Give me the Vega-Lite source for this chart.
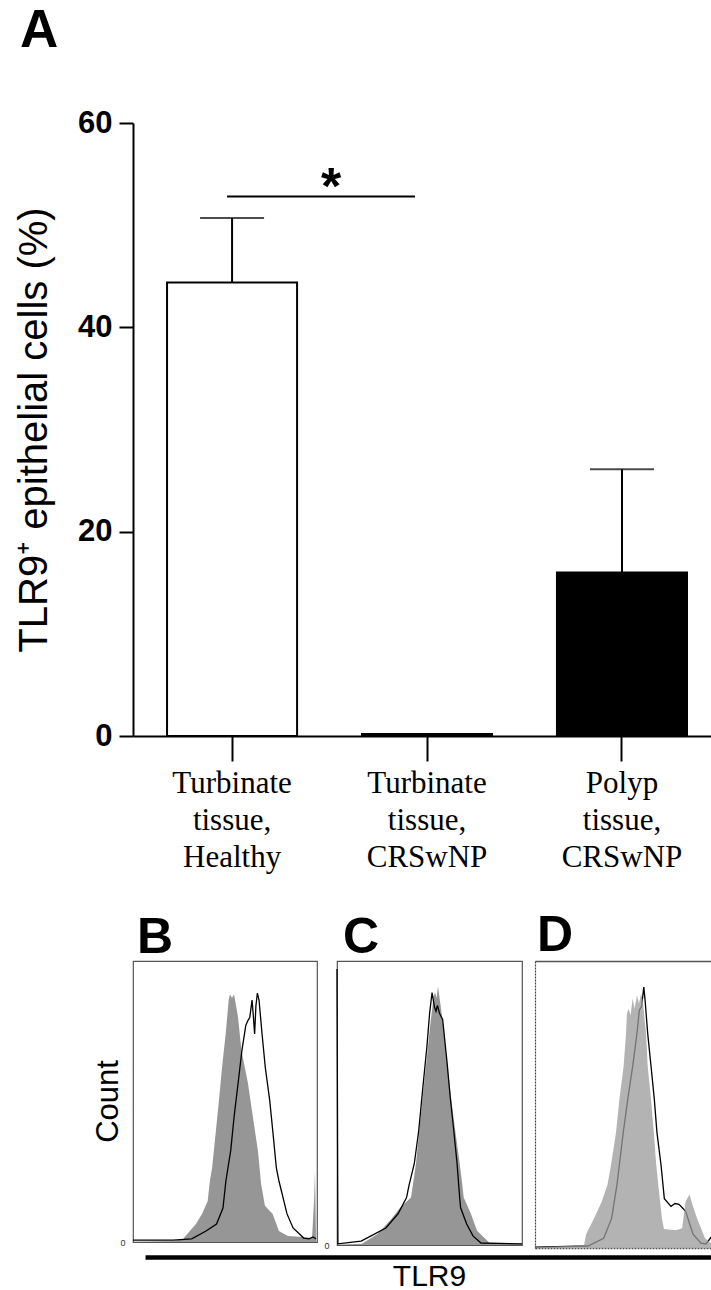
{
  "$schema": "https://vega.github.io/schema/vega-lite/v6.json",
  "usermeta": {"embedOptions": {"actions": false}},
  "background": "white",
  "padding": {"left": 14, "top": 5, "right": 0, "bottom": 0},
  "spacing": 39,
  "datasets": {
    "bars": [
      {"group": "Turbinate tissue, Healthy", "mean": 44.4, "upper": 50.7},
      {"group": "Turbinate tissue, CRSwNP", "mean": 0.2, "upper": 0.2},
      {"group": "Polyp tissue, CRSwNP", "mean": 16.0, "upper": 26.1}
    ],
    "sig": [
      {"from": "Turbinate tissue, Healthy", "to": "Turbinate tissue, CRSwNP", "y": 52.8, "label": "*"}
    ],
    "axisline": [{"t": 0}, {"t": 1}],
    "hist": [
      {"panel": "B", "series": "gray", "x": 0, "count": 0},
      {"panel": "B", "series": "gray", "x": 21.7, "count": 0.4},
      {"panel": "B", "series": "gray", "x": 27.2, "count": 1.1},
      {"panel": "B", "series": "gray", "x": 29.6, "count": 2.9},
      {"panel": "B", "series": "gray", "x": 34.2, "count": 6.4},
      {"panel": "B", "series": "gray", "x": 37.5, "count": 10},
      {"panel": "B", "series": "gray", "x": 40.6, "count": 14.6},
      {"panel": "B", "series": "gray", "x": 41.8, "count": 21.8},
      {"panel": "B", "series": "gray", "x": 43, "count": 26.4},
      {"panel": "B", "series": "gray", "x": 44.9, "count": 38.6},
      {"panel": "B", "series": "gray", "x": 46.7, "count": 50.4},
      {"panel": "B", "series": "gray", "x": 48.4, "count": 62.1},
      {"panel": "B", "series": "gray", "x": 50.4, "count": 74.3},
      {"panel": "B", "series": "gray", "x": 52, "count": 86.1},
      {"panel": "B", "series": "gray", "x": 52.7, "count": 88.2},
      {"panel": "B", "series": "gray", "x": 53.8, "count": 86.8},
      {"panel": "B", "series": "gray", "x": 54.9, "count": 88.2},
      {"panel": "B", "series": "gray", "x": 57.1, "count": 80},
      {"panel": "B", "series": "gray", "x": 58.9, "count": 68.2},
      {"panel": "B", "series": "gray", "x": 62.5, "count": 56.4},
      {"panel": "B", "series": "gray", "x": 65.2, "count": 44.3},
      {"panel": "B", "series": "gray", "x": 67.9, "count": 32.5},
      {"panel": "B", "series": "gray", "x": 69.6, "count": 20.7},
      {"panel": "B", "series": "gray", "x": 71.7, "count": 12.9},
      {"panel": "B", "series": "gray", "x": 75.9, "count": 10},
      {"panel": "B", "series": "gray", "x": 79.3, "count": 3.9},
      {"panel": "B", "series": "gray", "x": 84.2, "count": 2.1},
      {"panel": "B", "series": "gray", "x": 92.4, "count": 1.8},
      {"panel": "B", "series": "gray", "x": 97.3, "count": 1.4},
      {"panel": "B", "series": "gray", "x": 98.4, "count": 14.6},
      {"panel": "B", "series": "gray", "x": 98.9, "count": 25.4},
      {"panel": "B", "series": "gray", "x": 99.5, "count": 0.4},
      {"panel": "B", "series": "gray", "x": 100, "count": 0},
      {"panel": "B", "series": "black", "x": 0, "count": 0.7},
      {"panel": "B", "series": "black", "x": 21.7, "count": 0.7},
      {"panel": "B", "series": "black", "x": 31.9, "count": 1.1},
      {"panel": "B", "series": "black", "x": 39.7, "count": 3.9},
      {"panel": "B", "series": "black", "x": 45.4, "count": 6.4},
      {"panel": "B", "series": "black", "x": 48.9, "count": 12.1},
      {"panel": "B", "series": "black", "x": 50.5, "count": 21.8},
      {"panel": "B", "series": "black", "x": 53.1, "count": 32.5},
      {"panel": "B", "series": "black", "x": 54.9, "count": 44.3},
      {"panel": "B", "series": "black", "x": 57.1, "count": 56.4},
      {"panel": "B", "series": "black", "x": 59.2, "count": 68.2},
      {"panel": "B", "series": "black", "x": 61.3, "count": 77.1},
      {"panel": "B", "series": "black", "x": 62.3, "count": 78.6},
      {"panel": "B", "series": "black", "x": 63.5, "count": 80},
      {"panel": "B", "series": "black", "x": 64.7, "count": 86.1},
      {"panel": "B", "series": "black", "x": 65.4, "count": 80.5},
      {"panel": "B", "series": "black", "x": 66.1, "count": 74},
      {"panel": "B", "series": "black", "x": 66.8, "count": 84},
      {"panel": "B", "series": "black", "x": 67.6, "count": 88.6},
      {"panel": "B", "series": "black", "x": 68.5, "count": 86.1},
      {"panel": "B", "series": "black", "x": 70.1, "count": 74.3},
      {"panel": "B", "series": "black", "x": 71.9, "count": 62.1},
      {"panel": "B", "series": "black", "x": 74.3, "count": 50.4},
      {"panel": "B", "series": "black", "x": 76.1, "count": 38.6},
      {"panel": "B", "series": "black", "x": 77.9, "count": 26.4},
      {"panel": "B", "series": "black", "x": 79.3, "count": 21.8},
      {"panel": "B", "series": "black", "x": 83.7, "count": 10},
      {"panel": "B", "series": "black", "x": 87, "count": 5},
      {"panel": "B", "series": "black", "x": 92.8, "count": 1.4},
      {"panel": "B", "series": "black", "x": 95.7, "count": 1.1},
      {"panel": "B", "series": "black", "x": 97.8, "count": 1.8},
      {"panel": "B", "series": "black", "x": 99.5, "count": 1.1},
      {"panel": "C", "series": "gray", "x": 0, "count": 0},
      {"panel": "C", "series": "gray", "x": 13.5, "count": 0.4},
      {"panel": "C", "series": "gray", "x": 21.9, "count": 3.9},
      {"panel": "C", "series": "gray", "x": 28.6, "count": 8.5},
      {"panel": "C", "series": "gray", "x": 34.1, "count": 13.1},
      {"panel": "C", "series": "gray", "x": 40, "count": 16.7},
      {"panel": "C", "series": "gray", "x": 42.7, "count": 28.7},
      {"panel": "C", "series": "gray", "x": 44.5, "count": 40.4},
      {"panel": "C", "series": "gray", "x": 46.3, "count": 52.1},
      {"panel": "C", "series": "gray", "x": 48.3, "count": 64.2},
      {"panel": "C", "series": "gray", "x": 50.1, "count": 75.9},
      {"panel": "C", "series": "gray", "x": 52.3, "count": 87.7},
      {"panel": "C", "series": "gray", "x": 53, "count": 89},
      {"panel": "C", "series": "gray", "x": 53.8, "count": 86.9},
      {"panel": "C", "series": "gray", "x": 54.6, "count": 91},
      {"panel": "C", "series": "gray", "x": 55.3, "count": 87.7},
      {"panel": "C", "series": "gray", "x": 56.8, "count": 80.5},
      {"panel": "C", "series": "gray", "x": 59.5, "count": 64.2},
      {"panel": "C", "series": "gray", "x": 61.6, "count": 52.1},
      {"panel": "C", "series": "gray", "x": 63.9, "count": 40.4},
      {"panel": "C", "series": "gray", "x": 66.3, "count": 28.7},
      {"panel": "C", "series": "gray", "x": 67.6, "count": 22},
      {"panel": "C", "series": "gray", "x": 68.5, "count": 16.7},
      {"panel": "C", "series": "gray", "x": 72.4, "count": 11},
      {"panel": "C", "series": "gray", "x": 75.7, "count": 5},
      {"panel": "C", "series": "gray", "x": 82.5, "count": 0.7},
      {"panel": "C", "series": "gray", "x": 100, "count": 0.4},
      {"panel": "C", "series": "black", "x": 0, "count": 97.2},
      {"panel": "C", "series": "black", "x": 0.5, "count": 0.4},
      {"panel": "C", "series": "black", "x": 13, "count": 1.4},
      {"panel": "C", "series": "black", "x": 18.4, "count": 3.2},
      {"panel": "C", "series": "black", "x": 26.4, "count": 6},
      {"panel": "C", "series": "black", "x": 33, "count": 11},
      {"panel": "C", "series": "black", "x": 37.6, "count": 16.7},
      {"panel": "C", "series": "black", "x": 38.9, "count": 20.9},
      {"panel": "C", "series": "black", "x": 41.8, "count": 28.7},
      {"panel": "C", "series": "black", "x": 44.2, "count": 40.4},
      {"panel": "C", "series": "black", "x": 45.9, "count": 52.1},
      {"panel": "C", "series": "black", "x": 48.6, "count": 69.9},
      {"panel": "C", "series": "black", "x": 50.1, "count": 81.9},
      {"panel": "C", "series": "black", "x": 51.4, "count": 88.9},
      {"panel": "C", "series": "black", "x": 52.7, "count": 83.7},
      {"panel": "C", "series": "black", "x": 53.5, "count": 82.3},
      {"panel": "C", "series": "black", "x": 54.3, "count": 84.4},
      {"panel": "C", "series": "black", "x": 55.4, "count": 81.6},
      {"panel": "C", "series": "black", "x": 57.1, "count": 79.4},
      {"panel": "C", "series": "black", "x": 59.5, "count": 64.2},
      {"panel": "C", "series": "black", "x": 61.2, "count": 52.1},
      {"panel": "C", "series": "black", "x": 63.1, "count": 40.4},
      {"panel": "C", "series": "black", "x": 64.9, "count": 28.7},
      {"panel": "C", "series": "black", "x": 66.3, "count": 16.7},
      {"panel": "C", "series": "black", "x": 66.8, "count": 13.1},
      {"panel": "C", "series": "black", "x": 70.1, "count": 7.4},
      {"panel": "C", "series": "black", "x": 73.5, "count": 3.2},
      {"panel": "C", "series": "black", "x": 77.8, "count": 0.7},
      {"panel": "C", "series": "black", "x": 100, "count": 0.4},
      {"panel": "D", "series": "gray", "x": 0, "count": 0.3},
      {"panel": "D", "series": "gray", "x": 26.5, "count": 1},
      {"panel": "D", "series": "gray", "x": 27.6, "count": 4.8},
      {"panel": "D", "series": "gray", "x": 31.9, "count": 10.3},
      {"panel": "D", "series": "gray", "x": 36.1, "count": 16.2},
      {"panel": "D", "series": "gray", "x": 39.2, "count": 22.1},
      {"panel": "D", "series": "gray", "x": 41.1, "count": 29},
      {"panel": "D", "series": "gray", "x": 43.8, "count": 40.3},
      {"panel": "D", "series": "gray", "x": 45.6, "count": 51.7},
      {"panel": "D", "series": "gray", "x": 47.9, "count": 63.4},
      {"panel": "D", "series": "gray", "x": 49.2, "count": 74.8},
      {"panel": "D", "series": "gray", "x": 49.7, "count": 81.7},
      {"panel": "D", "series": "gray", "x": 50.6, "count": 83.4},
      {"panel": "D", "series": "gray", "x": 51.6, "count": 81},
      {"panel": "D", "series": "gray", "x": 52.8, "count": 86.9},
      {"panel": "D", "series": "gray", "x": 53.8, "count": 83.4},
      {"panel": "D", "series": "gray", "x": 55.1, "count": 88},
      {"panel": "D", "series": "gray", "x": 56.2, "count": 85.2},
      {"panel": "D", "series": "gray", "x": 57.3, "count": 88.6},
      {"panel": "D", "series": "gray", "x": 58.2, "count": 86.3},
      {"panel": "D", "series": "gray", "x": 60, "count": 74.8},
      {"panel": "D", "series": "gray", "x": 60.9, "count": 63.4},
      {"panel": "D", "series": "gray", "x": 62.7, "count": 51.7},
      {"panel": "D", "series": "gray", "x": 64.2, "count": 40.3},
      {"panel": "D", "series": "gray", "x": 65.4, "count": 30},
      {"panel": "D", "series": "gray", "x": 66.6, "count": 22.1},
      {"panel": "D", "series": "gray", "x": 68.6, "count": 10.3},
      {"panel": "D", "series": "gray", "x": 69.7, "count": 6.6},
      {"panel": "D", "series": "gray", "x": 76.2, "count": 6.2},
      {"panel": "D", "series": "gray", "x": 79.5, "count": 6.9},
      {"panel": "D", "series": "gray", "x": 81.4, "count": 16.2},
      {"panel": "D", "series": "gray", "x": 83.5, "count": 18.6},
      {"panel": "D", "series": "gray", "x": 85.4, "count": 14.5},
      {"panel": "D", "series": "gray", "x": 87.6, "count": 10.3},
      {"panel": "D", "series": "gray", "x": 91.9, "count": 3.4},
      {"panel": "D", "series": "gray", "x": 96.2, "count": 1.2},
      {"panel": "D", "series": "black", "x": 0, "count": 0.3},
      {"panel": "D", "series": "black", "x": 28.6, "count": 0.7},
      {"panel": "D", "series": "black", "x": 37.1, "count": 3.4},
      {"panel": "D", "series": "black", "x": 41.4, "count": 10.3},
      {"panel": "D", "series": "black", "x": 44.3, "count": 22.1},
      {"panel": "D", "series": "black", "x": 45.6, "count": 29},
      {"panel": "D", "series": "black", "x": 47.7, "count": 40.3},
      {"panel": "D", "series": "black", "x": 50.1, "count": 51.7},
      {"panel": "D", "series": "black", "x": 52.8, "count": 63.4},
      {"panel": "D", "series": "black", "x": 55.1, "count": 74.8},
      {"panel": "D", "series": "black", "x": 56.4, "count": 82.9},
      {"panel": "D", "series": "black", "x": 57.6, "count": 84.1},
      {"panel": "D", "series": "black", "x": 58.8, "count": 90.9},
      {"panel": "D", "series": "black", "x": 59.5, "count": 86.3},
      {"panel": "D", "series": "black", "x": 60.9, "count": 74.8},
      {"panel": "D", "series": "black", "x": 62.7, "count": 63.4},
      {"panel": "D", "series": "black", "x": 64.5, "count": 51.7},
      {"panel": "D", "series": "black", "x": 65.9, "count": 40.3},
      {"panel": "D", "series": "black", "x": 68.1, "count": 29},
      {"panel": "D", "series": "black", "x": 69.9, "count": 17.2},
      {"panel": "D", "series": "black", "x": 73.5, "count": 14.5},
      {"panel": "D", "series": "black", "x": 75.7, "count": 15.5},
      {"panel": "D", "series": "black", "x": 77.8, "count": 15.2},
      {"panel": "D", "series": "black", "x": 79.5, "count": 14.1},
      {"panel": "D", "series": "black", "x": 81.4, "count": 12.8},
      {"panel": "D", "series": "black", "x": 85.4, "count": 4.8},
      {"panel": "D", "series": "black", "x": 89.7, "count": 1.7},
      {"panel": "D", "series": "black", "x": 92.4, "count": 1.4},
      {"panel": "D", "series": "black", "x": 96.2, "count": 4.6}
    ]
  },
  "vconcat": [
    {
      "width": 580,
      "height": 613,
      "title": {"text": "A", "anchor": "start", "frame": "group", "font": "Liberation Sans", "fontSize": 53, "fontWeight": "bold", "baseline": "alphabetic", "offset": 7, "dx": -113, "color": "black"},
      "layer": [
        {
          "data": {"name": "bars"},
          "mark": {"type": "bar", "stroke": "black", "strokeWidth": 2},
          "encoding": {
            "x": {"field": "group", "type": "nominal", "sort": null,
              "scale": {"domain": ["Turbinate tissue, Healthy", "Turbinate tissue, CRSwNP", "Polyp tissue, CRSwNP"], "paddingInner": 0.333, "paddingOuter": 0.154, "align": 0.567},
              "axis": {"title": null, "labelAngle": 0, "labelExpr": "split(datum.label, ' ')", "labelFont": "Liberation Serif", "labelFontSize": 31, "labelLineHeight": 37, "labelBaseline": "top", "labelPadding": 7, "labelColor": "black", "tickSize": 25, "tickWidth": 2, "tickColor": "black", "domainWidth": 2, "domainColor": "black", "labelLimit": 0}},
            "y": {"field": "mean", "type": "quantitative",
              "scale": {"domain": [0, 60], "nice": false},
              "axis": {"values": [0, 20, 40, 60], "grid": false, "labelFont": "Liberation Sans", "labelFontWeight": "bold", "labelFontSize": 31, "labelColor": "black", "labelPadding": 7, "tickSize": 14, "tickWidth": 2, "tickColor": "black", "domainWidth": 2, "domainColor": "black",
                "title": "TLR9⁺ epithelial cells (%)", "titleFont": "Liberation Sans", "titleFontSize": 40, "titleFontWeight": "normal", "titleColor": "black", "titleAngle": -90, "titleBaseline": "alphabetic", "titleAlign": "center", "titleX": -87, "titleY": 306.5}},
            "fill": {"field": "group", "type": "nominal", "scale": {"domain": ["Turbinate tissue, Healthy", "Turbinate tissue, CRSwNP", "Polyp tissue, CRSwNP"], "range": ["white", "white", "black"]}, "legend": null}
          }
        },
        {
          "data": {"name": "bars"},
          "transform": [{"filter": "datum.upper > datum.mean"}],
          "mark": {"type": "rule", "strokeWidth": 2, "color": "black"},
          "encoding": {
            "x": {"field": "group", "type": "nominal", "sort": null},
            "y": {"field": "mean", "type": "quantitative"},
            "y2": {"field": "upper"}
          }
        },
        {
          "data": {"name": "bars"},
          "transform": [{"filter": "datum.upper > datum.mean"}],
          "mark": {"type": "tick", "size": 64, "thickness": 2, "color": "black", "orient": "horizontal"},
          "encoding": {
            "x": {"field": "group", "type": "nominal", "sort": null},
            "y": {"field": "upper", "type": "quantitative"}
          }
        },
        {
          "data": {"name": "sig"},
          "mark": {"type": "rule", "strokeWidth": 2, "color": "black", "xOffset": -5, "x2Offset": -12},
          "encoding": {
            "x": {"field": "from", "type": "nominal", "sort": null},
            "x2": {"field": "to"},
            "y": {"field": "y", "type": "quantitative"}
          }
        },
        {
          "data": {"name": "sig"},
          "mark": {"type": "text", "font": "Liberation Sans", "fontSize": 52, "fontWeight": "bold", "baseline": "alphabetic", "align": "center", "dx": 99, "dy": 7, "color": "black"},
          "encoding": {
            "x": {"field": "from", "type": "nominal", "sort": null},
            "y": {"field": "y", "type": "quantitative"},
            "text": {"field": "label"}
          }
        }
      ]
    },
    {
      "spacing": 2,
      "vconcat": [
        {
          "spacing": 1,
          "hconcat": [
            {
              "width": 184,
              "height": 281,
              "view": {"stroke": "#555555", "strokeWidth": 1.2},
              "title": {"text": "B", "anchor": "start", "frame": "group", "font": "Liberation Sans", "fontSize": 50, "fontWeight": "bold", "baseline": "alphabetic", "offset": -42, "dx": 4, "color": "black"},
              "data": {"name": "hist"},
              "transform": [{"filter": "datum.panel === 'B'"}],
              "encoding": {
                "x": {"field": "x", "type": "quantitative", "scale": {"domain": [0, 100], "nice": false}, "axis": null},
                "y": {"field": "count", "type": "quantitative", "scale": {"domain": [0, 100], "nice": false},
                  "axis": {"values": [0], "grid": false, "ticks": false, "domain": false, "labelFontSize": 9, "labelColor": "#333333", "labelPadding": 8,
                    "title": "Count", "titleFont": "Liberation Sans", "titleFontSize": 31, "titleFontWeight": "normal", "titleColor": "black", "titleAngle": -90, "titleBaseline": "alphabetic", "titleAlign": "center", "titleX": -16, "titleY": 140}}
              },
              "layer": [
                {"transform": [{"filter": "datum.series === 'gray'"}], "mark": {"type": "area", "color": "#969696"}},
                {"transform": [{"filter": "datum.series === 'black'"}], "mark": {"type": "line", "color": "black", "strokeWidth": 1.3}}
              ]
            },
            {
              "width": 185,
              "height": 284,
              "view": {"stroke": "#555555", "strokeWidth": 1.2},
              "title": {"text": "C", "anchor": "start", "frame": "group", "font": "Liberation Sans", "fontSize": 50, "fontWeight": "bold", "baseline": "alphabetic", "offset": -42, "dx": 6, "color": "black"},
              "data": {"name": "hist"},
              "transform": [{"filter": "datum.panel === 'C'"}],
              "encoding": {
                "x": {"field": "x", "type": "quantitative", "scale": {"domain": [0, 100], "nice": false}, "axis": null},
                "y": {"field": "count", "type": "quantitative", "scale": {"domain": [0, 100], "nice": false},
                  "axis": {"values": [0], "grid": false, "ticks": false, "domain": false, "labelFontSize": 9, "labelColor": "#333333", "labelPadding": 8, "minExtent": 15, "maxExtent": 15, "title": null}}
              },
              "layer": [
                {"transform": [{"filter": "datum.series === 'gray'"}], "mark": {"type": "area", "color": "#969696"}},
                {"transform": [{"filter": "datum.series === 'black'"}], "mark": {"type": "line", "color": "black", "strokeWidth": 1.3}}
              ]
            },
            {
              "width": 178,
              "height": 287,
              "title": {"text": "D", "anchor": "start", "frame": "group", "font": "Liberation Sans", "fontSize": 50, "fontWeight": "bold", "baseline": "alphabetic", "offset": -40, "dx": 2, "color": "black"},
              "data": {"name": "hist"},
              "transform": [{"filter": "datum.panel === 'D'"}],
              "encoding": {
                "y": {"field": "count", "type": "quantitative", "scale": {"domain": [0, 100], "nice": false},
                  "axis": {"values": [], "grid": false, "ticks": false, "labels": false, "domain": true, "domainColor": "#444444", "domainDash": [2, 1], "domainWidth": 1.2, "minExtent": 8, "maxExtent": 8, "title": null}}
              },
              "layer": [
                {"transform": [{"filter": "datum.series === 'black'"}], "mark": {"type": "line", "color": "black", "strokeWidth": 1.3},
                  "encoding": {"x": {"field": "x", "type": "quantitative", "scale": {"domain": [0, 96.2], "nice": false},
                    "axis": {"orient": "top", "grid": false, "ticks": false, "labels": false, "domain": true, "domainColor": "#555555", "domainWidth": 1.5, "title": null}}}},
                {"transform": [{"filter": "datum.series === 'gray'"}], "mark": {"type": "area", "color": "#999999", "opacity": 0.75},
                  "encoding": {"x": {"field": "x", "type": "quantitative", "scale": {"domain": [0, 96.2], "nice": false},
                    "axis": {"orient": "bottom", "grid": false, "ticks": false, "labels": false, "domain": true, "domainColor": "#555555", "domainDash": [2, 1], "domainWidth": 1.5, "title": null}}}}
              ],
              "resolve": {"axis": {"x": "independent"}}
            }
          ]
        },
        {
          "width": 580,
          "height": 1,
          "data": {"name": "axisline"},
          "mark": {"type": "point", "opacity": 0},
          "encoding": {
            "x": {"field": "t", "type": "quantitative", "scale": {"domain": [0, 1], "nice": false, "range": [12, 580]},
              "axis": {"grid": false, "ticks": false, "labels": false, "domain": true, "domainWidth": 4.5, "domainColor": "black",
                "title": "TLR9", "titleFont": "Liberation Sans", "titleFontSize": 30, "titleFontWeight": "normal", "titleColor": "black", "titleBaseline": "alphabetic", "titlePadding": 28}}
          }
        }
      ]
    }
  ],
  "config": {
    "view": {"stroke": null},
    "font": "Liberation Sans",
    "axis": {"grid": false}
  }
}
